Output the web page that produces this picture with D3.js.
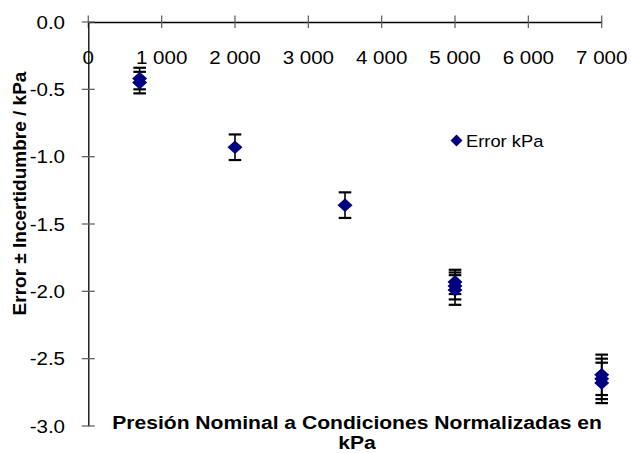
<!DOCTYPE html>
<html><head><meta charset="utf-8">
<script src="https://cdn.jsdelivr.net/npm/d3@7"></script>
<style>body{margin:0;background:#fff}svg{display:block;font-family:"Liberation Sans",Arial,sans-serif}</style>
</head><body>
<svg id="c" width="631" height="453"></svg>
<script>
const xValues = [700, 700, 2000, 3500, 5000, 5000, 5000, 7000, 7000, 7000];
const errorValues = [-0.42, -0.45, -0.93, -1.36, -1.93, -1.96, -1.99, -2.62, -2.65, -2.68];
const uncertainty = [0.08, 0.08, 0.095, 0.095, 0.09, 0.10, 0.11, 0.15, 0.15, 0.15];
const xTicks = [0, 1000, 2000, 3000, 4000, 5000, 6000, 7000];
const yTicks = [0, -0.5, -1.0, -1.5, -2.0, -2.5, -3.0];
const seriesName = "Error kPa";
const yTitle = "Error ± Incertidumbre / kPa";
const xTitle1 = "Presión Nominal a Condiciones Normalizadas en";
const xTitle2 = "kPa";

const SX = 1.11; // horizontal stretch of text as in the reference
const svg = d3.select("#c");
const x = d3.scaleLinear().domain([0, 7000]).range([88.3, 601.7]);
const y = d3.scaleLinear().domain([-3, 0]).range([426, 22]);
const fmtX = v => v === 0 ? "0" : d3.format(",")(v).replace(",", " ");

function stext(g, tx, ty, str, size, anchor, bold) {
  return g.append("text").attr("transform", `translate(${tx},${ty}) scale(${SX},1)`)
    .attr("text-anchor", anchor).attr("font-size", size)
    .attr("font-weight", bold ? "bold" : "normal").attr("fill", "#000").text(str);
}

// x axis at top (y=0)
const xa = svg.append("g").attr("transform", `translate(0,${y(0)})`)
  .call(d3.axisTop(x).tickValues(xTicks).tickSize(0).tickFormat(""));
xa.select(".domain").attr("stroke", "#000").attr("stroke-width", 1.3);
svg.append("g").selectAll("line").data(xTicks).join("line")
  .attr("x1", d => x(d)).attr("x2", d => x(d))
  .attr("y1", y(0) - 6.5).attr("y2", y(0) + 6)
  .attr("stroke", "#666").attr("stroke-width", 1.3);
const xl = svg.append("g");
xTicks.forEach(d => stext(xl, x(d), 63.5, fmtX(d), 18.5, "middle", false));

// y axis
const ya = svg.append("g").attr("transform", `translate(${x(0)},0)`)
  .call(d3.axisLeft(y).tickValues(yTicks).tickSize(0).tickFormat(""));
ya.select(".domain").attr("stroke", "#000").attr("stroke-width", 1.3);
svg.append("g").selectAll("line").data(yTicks).join("line")
  .attr("x1", x(0) - 6.5).attr("x2", x(0) + 6.5)
  .attr("y1", d => y(d)).attr("y2", d => y(d))
  .attr("stroke", "#666").attr("stroke-width", 1.3);
const yl = svg.append("g");
yTicks.forEach(d => stext(yl, 65, y(d) + 6.5, d3.format(".1f")(d).replace("−", "-"), 18.5, "end", false));

// error bars
const pts = xValues.map((v, i) => ({x: v, y: errorValues[i], e: uncertainty[i]}));
const eb = svg.append("g");
pts.forEach(p => {
  const cx = x(p.x), t = y(p.y + p.e), b = y(p.y - p.e);
  eb.append("line").attr("x1", cx).attr("x2", cx).attr("y1", t).attr("y2", b).attr("stroke", "#000").attr("stroke-width", 1.6);
  [t, b].forEach(yy => eb.append("line").attr("x1", cx - 6.3).attr("x2", cx + 6.3).attr("y1", yy).attr("y2", yy).attr("stroke", "#000").attr("stroke-width", 2.2));
});
// diamonds
const diamond = (cx, cy, w, h) => `M${cx},${cy - h} L${cx + w},${cy} L${cx},${cy + h} L${cx - w},${cy} Z`;
svg.append("g").selectAll("path").data(pts).join("path")
  .attr("d", p => diamond(x(p.x), y(p.y), 7.5, 6.8)).attr("fill", "#000080");

// legend
svg.append("path").attr("d", diamond(456.5, 140.5, 6, 6)).attr("fill", "#000080");
stext(svg, 466, 146.5, seriesName, 16.5, "start", false);

// titles
svg.append("text").attr("transform", "translate(26,193.5) rotate(-90)").attr("text-anchor", "middle")
  .attr("font-size", 19).attr("font-weight", "bold").text(yTitle);
stext(svg, 357, 428.5, xTitle1, 19, "middle", true);
stext(svg, 357, 448.5, xTitle2, 19, "middle", true);
</script>
</body></html>
